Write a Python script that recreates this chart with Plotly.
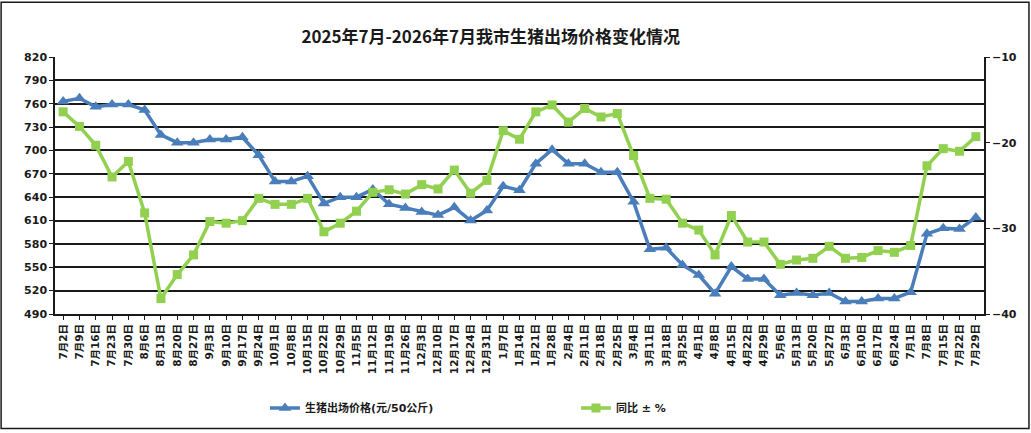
import plotly.graph_objects as go

# weekly dates (Wednesdays), Jul 2025 - Jul 2026
dates = ['7月2日', '7月9日', '7月16日', '7月23日', '7月30日', '8月6日', '8月13日', '8月20日',
         '8月27日', '9月3日', '9月10日', '9月17日', '9月24日', '10月1日', '10月8日', '10月15日',
         '10月22日', '10月29日', '11月5日', '11月12日', '11月19日', '11月26日', '12月3日',
         '12月10日', '12月17日', '12月24日', '12月31日', '1月7日', '1月14日', '1月21日',
         '1月28日', '2月4日', '2月11日', '2月18日', '2月25日', '3月4日', '3月11日', '3月18日',
         '3月25日', '4月1日', '4月8日', '4月15日', '4月22日', '4月29日', '5月6日', '5月13日',
         '5月20日', '5月27日', '6月3日', '6月10日', '6月17日', '6月24日', '7月1日', '7月8日',
         '7月15日', '7月22日', '7月29日']

# 生猪出场价格 (元/50公斤)
price = [763, 767, 756, 759, 759, 752, 720, 710, 710, 714, 714, 717, 694, 660, 660, 667,
         632, 640, 640, 650, 631, 626, 621, 617, 627, 610, 623, 654, 649, 683, 701, 683,
         683, 672, 672, 634, 573, 575, 553, 540, 516, 551, 535, 535, 514, 517, 514, 517,
         506, 506, 510, 510, 518, 593, 600, 599, 614]

# 同比 ± %
yoy = [-16.4, -18.1, -20.3, -24.0, -22.2, -28.2, -38.2, -35.4, -33.1, -29.2, -29.4, -29.1,
       -26.5, -27.2, -27.2, -26.5, -30.4, -29.4, -28.0, -25.8, -25.5, -26.0, -24.9, -25.4,
       -23.2, -25.9, -24.4, -18.6, -19.6, -16.4, -15.6, -17.6, -16.0, -17.0, -16.6, -21.5,
       -26.5, -26.6, -29.4, -30.2, -33.1, -28.5, -31.6, -31.6, -34.2, -33.7, -33.5, -32.1,
       -33.5, -33.4, -32.6, -32.8, -32.0, -22.7, -20.7, -21.0, -19.3]

left_ticks = list(range(490, 821, 30))
right_ticks = [-40, -30, -20, -10]

blue = '#4A7EBB'
green = '#92D050'
ink = '#1a1a1a'
font_fam = 'DejaVu Sans, Noto Sans CJK SC'

fig = go.Figure()
fig.add_trace(go.Scatter(
    x=dates, y=price, name='生猪出场价格(元/50公斤)', mode='lines+markers',
    line=dict(color=blue, width=3.5),
    marker=dict(symbol='triangle-up', size=11, color=blue),
))
fig.add_trace(go.Scatter(
    x=dates, y=yoy, name='同比 ± %', mode='lines+markers', yaxis='y2',
    line=dict(color=green, width=3.5),
    marker=dict(symbol='square', size=9, color=green),
))

fig.update_layout(
    width=1031, height=433,
    paper_bgcolor='white', plot_bgcolor='white',
    margin=dict(l=55, r=47, t=57, b=118),
    font=dict(family=font_fam, color=ink, size=11),
    title=dict(
        text='<b>2025年7月-2026年7月我市生猪出场价格变化情况</b>',
        font=dict(family='Noto Sans CJK SC', size=17, color=ink),
        x=0.469, xref='paper', xanchor='center', y=0.915, yanchor='middle',
    ),
    xaxis=dict(
        type='category', tickmode='array', tickvals=dates, ticktext=dates,
        tickangle=-90, tickfont=dict(size=10.5, weight='bold'),
        showline=True, linecolor=ink, linewidth=1.5, mirror=False,
        ticks='outside', ticklen=4, tickcolor=ink,
        showgrid=False, range=[-0.5, len(dates) - 0.5], automargin=False,
    ),
    yaxis=dict(
        range=[490, 820], tickvals=left_ticks, tickfont=dict(size=11, weight='bold'),
        showgrid=True, gridcolor=ink, gridwidth=1.8,
        showline=True, linecolor=ink, linewidth=1.5,
        ticks='outside', ticklen=4, tickcolor=ink, zeroline=False, automargin=False,
    ),
    yaxis2=dict(
        range=[-40, -10], tickvals=right_ticks, overlaying='y', side='right',
        tickfont=dict(size=11, weight='bold'), showgrid=False,
        showline=True, linecolor=ink, linewidth=1.5,
        ticks='outside', ticklen=4, tickcolor=ink, zeroline=False, automargin=False,
    ),
    showlegend=True,
    legend=dict(
        orientation='h', x=0.226, xanchor='left', y=-0.36, yanchor='middle',
        entrywidth=266, entrywidthmode='pixels',
        font=dict(size=11, weight='bold'), bgcolor='rgba(0,0,0,0)',
    ),
    shapes=[dict(
        type='rect', xref='paper', yref='paper',
        x0=-0.058, x1=1.0484, y0=-0.446, y1=1.213,
        line=dict(color=ink, width=1.5), fillcolor='rgba(0,0,0,0)', layer='below',
    )],
)

fig.write_html('out.html', config={'displayModeBar': False},
               post_script="document.body.style.margin='0';")
